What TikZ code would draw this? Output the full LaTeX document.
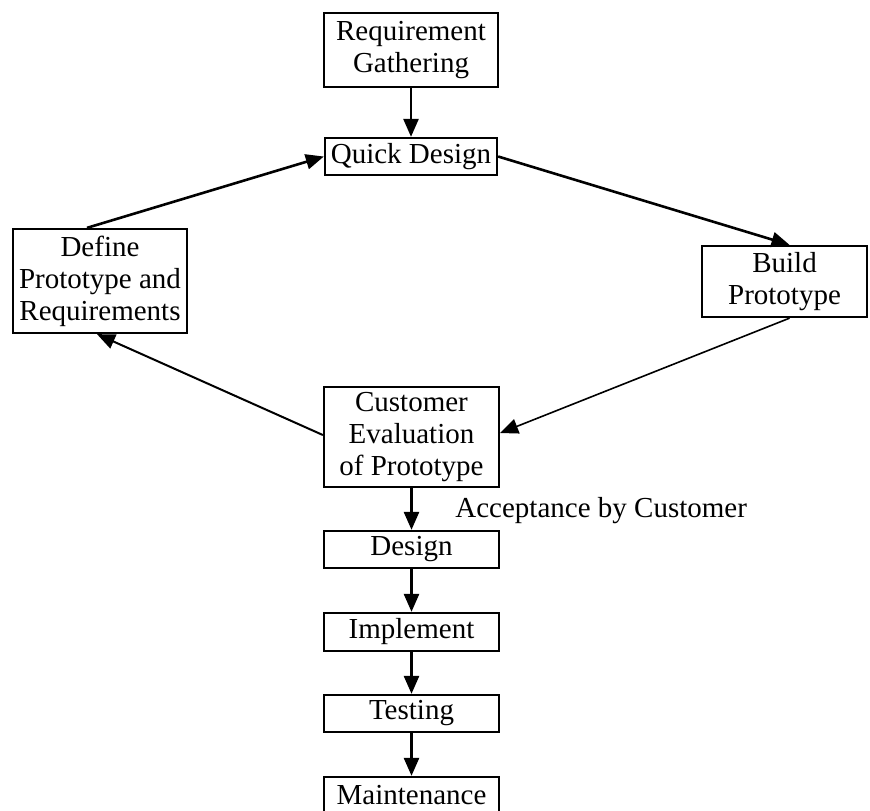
\documentclass[tikz,border=0pt]{standalone}
\usepackage{fontspec}
\setmainfont{Liberation Serif}
\usetikzlibrary{arrows.meta,calc}
\begin{document}
\begin{tikzpicture}[x=0.5pt,y=-0.5pt,
  box/.style={draw,line width=1.15pt,inner sep=0pt,align=center,
    font=\fontsize{14.5}{16}\selectfont},
  arr/.style={-{Triangle[length=9pt,width=7.5pt]},line width=1.3pt},
  thinarr/.style={arr,line width=0.8pt},
  lbl/.style={inner sep=0pt,font=\fontsize{14.5}{16}\selectfont}]
\useasboundingbox (0,0) rectangle (870,810);

% prototyping loop
\node[box,minimum width=87pt,minimum height=37pt] (rg) at (411,50) {Requirement\\Gathering};
\node[box,minimum width=86pt,minimum height=18.5pt] (qd) at (411,156.5) {Quick Design};
\node[box,minimum width=87pt,minimum height=52pt] (def) at (100,281) {Define\\Prototype and\\Requirements};
\node[box,minimum width=82.5pt,minimum height=35.5pt] (bp) at (784.5,281.5) {Build\\Prototype};
\node[box,minimum width=87.5pt,minimum height=50pt] (ce) at (411.5,437) {Customer\\Evaluation\\of Prototype};

% development chain
\node[box,minimum width=87.5pt,minimum height=18.5pt] (ds) at (411.5,549.5) {Design};
\node[box,minimum width=87.5pt,minimum height=19pt] (im) at (411.5,632) {Implement};
\node[box,minimum width=87.5pt,minimum height=18.5pt] (ts) at (411.5,713.5) {Testing};
\node[box,minimum width=87.5pt,minimum height=18.5pt] (mt) at (411.5,795.5) {Maintenance};

\node[lbl,anchor=base west] (acc) at (455,517) {Acceptance by Customer};

% connectors
\draw[arr] (rg.south) -- (qd.north);
\draw[arr] (qd.east) -- ([xshift=2.5pt]bp.north);
\draw[thinarr] ([xshift=2.5pt]bp.south) -- ([yshift=2pt]ce.east);
\draw[arr,line width=1pt] ([yshift=1pt]ce.west) -- ([xshift=-1.5pt]def.south);
\draw[arr] ([xshift=-6.5pt]def.north) -- (qd.west);
\draw[arr] (ce.south) -- (ds.north);
\draw[arr] (ds.south) -- (im.north);
\draw[arr] (im.south) -- (ts.north);
\draw[arr] (ts.south) -- (mt.north);
\end{tikzpicture}
\end{document}
